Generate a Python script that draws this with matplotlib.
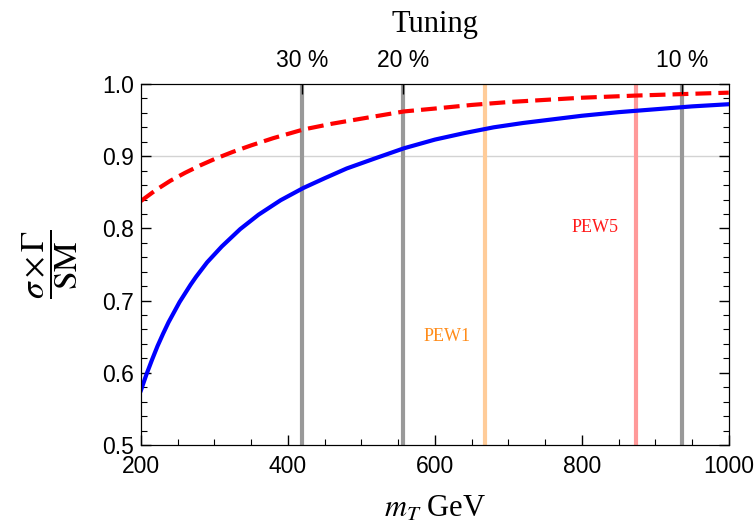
import numpy as np
import matplotlib.pyplot as plt

# values
m_blue = [200, 207.5, 215, 222.5, 230, 237.5, 245, 252.5, 260, 267.5, 275,
          290, 310, 335, 360, 390, 421, 450, 480, 520, 558, 600, 640, 680,
          720, 760, 800, 850, 900, 950, 1000]
r_blue = [0.576, 0.598, 0.618, 0.637, 0.654, 0.670, 0.684, 0.698, 0.710,
          0.722, 0.733, 0.753, 0.775, 0.799, 0.819, 0.839, 0.856, 0.8695,
          0.883, 0.8975, 0.911, 0.923, 0.932, 0.940, 0.946, 0.951, 0.956,
          0.961, 0.965, 0.969, 0.972]

m_red = [200, 220, 240, 260, 280, 300, 325, 350, 380, 421, 460, 500, 558,
         600, 650, 700, 750, 800, 874, 936, 1000]
r_red = [0.838, 0.853, 0.866, 0.877, 0.887, 0.896, 0.906, 0.915, 0.925,
         0.937, 0.945, 0.952, 0.962, 0.966, 0.971, 0.975, 0.978, 0.981,
         0.984, 0.986, 0.988]

tuning_pos = [419, 557, 936]
tuning_labels = ["30 %", "20 %", "10 %"]
pew_pos = [668, 874]
pew_labels = ["PEW1", "PEW5"]

plt.rcParams['mathtext.fontset'] = 'stix'

fig = plt.figure(figsize=(7.56, 5.27), dpi=100)
ax = fig.add_axes([0.1865, 0.1556, 0.7775, 0.685])

# reference line and vertical markers
ax.axhline(0.9, color='#d3d3d3', lw=1, zorder=1)
for x in tuning_pos:
    ax.axvline(x, color='#999999', lw=3, zorder=2)
ax.axvline(pew_pos[0], color='#ffcc99', lw=3, zorder=2)
ax.axvline(pew_pos[1], color='#ff9999', lw=3, zorder=2)

ax.plot(m_blue, r_blue, color='#0000ff', lw=3, zorder=3,
        solid_joinstyle='round')
ax.plot(m_red, r_red, color='#ff0000', lw=3, ls=(0, (3.8, 1.7)), zorder=3)

ax.text(616, 0.65, pew_labels[0], color='#ff8c1a', fontsize=13,
        family='Liberation Serif', ha='center', va='center')
ax.text(818, 0.801, pew_labels[1], color='#ff1a1a', fontsize=13,
        family='Liberation Serif', ha='center', va='center')

ax.set_xlim(200, 1000)
ax.set_ylim(0.5, 1.0)
ax.set_xticks(np.arange(200, 1001, 200))
ax.set_xticks(np.arange(200, 1001, 50), minor=True)
ax.set_yticks(np.arange(0.5, 1.01, 0.1))
ax.set_yticks(np.arange(0.5, 1.001, 0.02), minor=True)
ax.set_yticklabels(["0.5", "0.6", "0.7", "0.8", "0.9", "1.0"])
ax.tick_params(which='both', direction='in', right=True, labelsize=16.5)
ax.tick_params(which='major', length=7, width=1)
ax.tick_params(which='minor', length=4, width=0.8)
ax.tick_params(axis='x', which='major', pad=7)
ax.tick_params(axis='y', which='major', pad=5)
for lab in ax.get_xticklabels() + ax.get_yticklabels():
    lab.set_family('Liberation Sans')

ax.set_xlabel(r'$m_T$ GeV', fontsize=22, family='Liberation Serif',
              labelpad=12)
ax.set_ylabel(r'$\dfrac{\sigma\times\Gamma}{\mathrm{SM}}$', fontsize=24,
              labelpad=16)

top = ax.twiny()
top.set_xlim(200, 1000)
top.set_xticks(tuning_pos)
top.set_xticklabels(tuning_labels)
top.tick_params(direction='in', length=7, width=1, labelsize=16.5, pad=9)
for lab in top.get_xticklabels():
    lab.set_family('Liberation Sans')
top.set_xlabel('Tuning', fontsize=22, family='Liberation Serif', labelpad=12)

fig.savefig('out.png', dpi=100)
